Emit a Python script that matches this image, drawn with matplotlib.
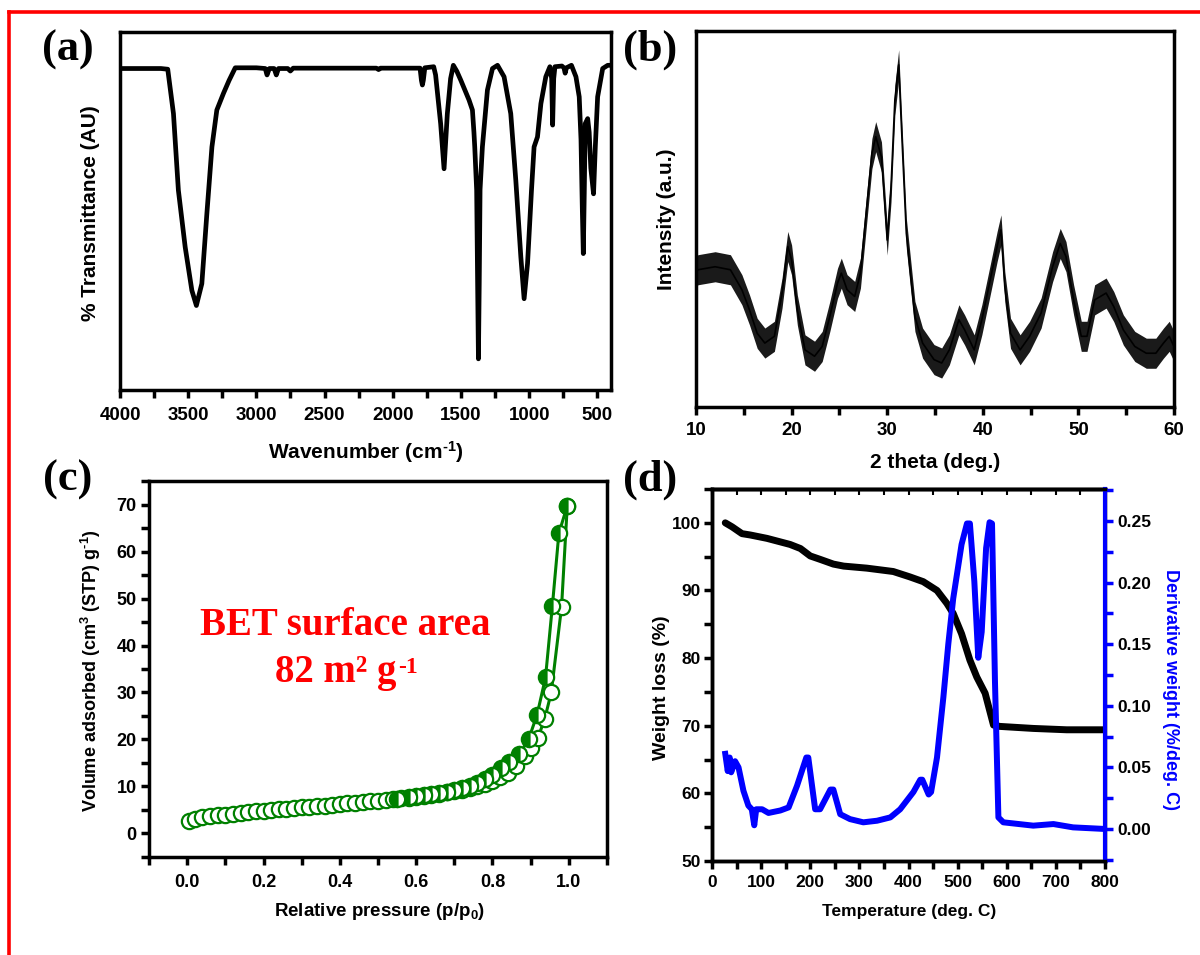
import matplotlib
matplotlib.use('Agg')
import numpy as np
import matplotlib.pyplot as plt
from matplotlib.lines import Line2D
from matplotlib.ticker import MultipleLocator, FormatStrFormatter

plt.rcParams['font.family'] = 'Liberation Sans'
plt.rcParams['font.weight'] = 'bold'
plt.rcParams['mathtext.fontset'] = 'custom'
plt.rcParams['mathtext.rm'] = 'Liberation Sans:bold'
plt.rcParams['mathtext.it'] = 'Liberation Sans:bold'
plt.rcParams['mathtext.bf'] = 'Liberation Sans:bold'
plt.rcParams['mathtext.default'] = 'rm'

# (a) FTIR spectrum
ir_wn = [4000, 3700, 3650, 3608, 3572, 3522, 3473, 3440, 3400, 3363, 3326, 3290,
         3241, 3200, 3155, 3000, 2935, 2922, 2905, 2870, 2854, 2838, 2770, 2751,
         2730, 2120, 2104, 2090, 1800, 1790, 1783, 1776, 1765, 1700, 1686, 1649,
         1624, 1600, 1576, 1556, 1530, 1502, 1441, 1416, 1405, 1399, 1385, 1378,
         1372, 1366, 1360, 1343, 1306, 1269, 1232, 1184, 1135, 1098, 1061, 1037,
         1012, 983, 964, 939, 914, 878, 848, 835, 828, 820, 811, 760, 745, 736,
         727, 690, 657, 633, 620, 610, 603, 596, 589, 571, 560, 548, 528, 515,
         498, 461, 424, 400]
ir_tr = [89.8, 89.8, 89.6, 77.2, 55.8, 39.9, 27.8, 23.6, 29.7, 49.3, 67.9, 78.2,
         82.9, 86.5, 90.0, 90.0, 89.8, 88.0, 89.8, 89.8, 88.0, 89.8, 89.8, 89.1,
         89.9, 89.9, 89.5, 89.9, 89.9, 86.5, 85.2, 86.5, 90.0, 90.3, 88.0, 74.4,
         61.8, 77.2, 87.0, 90.7, 89.0, 86.6, 81.0, 78.2, 72.0, 67.9, 55.8, 30.0,
         8.7, 30.0, 56.0, 67.9, 83.8, 89.8, 90.7, 87.5, 77.2, 58.6, 37.1, 25.5,
         35.3, 55.8, 67.9, 70.7, 80.0, 87.5, 90.3, 87.0, 74.0, 87.0, 90.3, 90.5,
         90.0, 88.5, 90.0, 90.7, 87.5, 81.9, 70.0, 50.0, 38.1, 55.0, 74.4, 75.8,
         72.0, 62.0, 54.8, 68.0, 81.9, 89.8, 90.7, 90.7]

# (b) XRD pattern
xrd_2theta = [10.0, 10.2, 12.0, 13.6, 14.8, 15.6, 16.4, 17.2, 18.2, 19.0, 19.6, 20.0,
              20.6, 21.4, 22.4, 23.2, 24.0, 24.8, 25.2, 25.8, 26.6, 27.2, 27.8, 28.4,
              28.8, 29.4, 30.0, 30.4, 30.8, 31.2, 31.6, 32.0, 32.9, 33.7, 34.9, 35.7,
              36.5, 37.5, 38.1, 39.1, 39.9, 40.7, 41.5, 41.9, 42.3, 42.9, 43.9, 44.9,
              46.1, 47.3, 48.1, 48.7, 49.5, 50.3, 50.9, 51.7, 52.9, 53.7, 54.7, 55.9,
              57.1, 58.1, 58.9, 59.5, 60.0]
xrd_int = [36.0, 36.5, 37.3, 36.5, 31.2, 25.8, 19.6, 17.0, 18.8, 30.3, 42.7, 39.1,
           25.8, 15.2, 13.5, 16.1, 24.1, 32.9, 35.6, 31.2, 29.4, 35.6, 51.5, 67.4,
           71.9, 66.5, 44.4, 58.6, 81.6, 91.0, 68.3, 46.2, 24.1, 17.0, 12.6, 11.7,
           15.2, 23.2, 20.5, 15.2, 23.2, 32.9, 42.7, 47.1, 32.0, 19.6, 15.2, 18.8,
           25.0, 37.3, 43.5, 40.0, 28.5, 18.8, 18.8, 28.5, 30.3, 26.7, 20.5, 16.1,
           14.3, 14.3, 17.0, 18.8, 16.1]

# (c) N2 isotherm
ads_p = [0.005, 0.02, 0.04, 0.06, 0.08, 0.10, 0.12, 0.14, 0.16, 0.18, 0.20, 0.22,
         0.24, 0.26, 0.28, 0.30, 0.32, 0.34, 0.36, 0.38, 0.40, 0.42, 0.44, 0.46,
         0.48, 0.50, 0.52, 0.54, 0.56, 0.58, 0.60, 0.62, 0.64, 0.66, 0.68, 0.70,
         0.72, 0.74, 0.76, 0.78, 0.80, 0.82, 0.84, 0.862, 0.884, 0.901, 0.919,
         0.937, 0.954, 0.981, 0.996]
ads_v = [2.6, 3.1, 3.4, 3.6, 3.8, 4.0, 4.2, 4.35, 4.5, 4.65, 4.8, 4.95,
         5.1, 5.25, 5.4, 5.5, 5.65, 5.8, 5.9, 6.05, 6.2, 6.35, 6.5, 6.65,
         6.8, 6.95, 7.1, 7.3, 7.45, 7.6, 7.8, 8.0, 8.2, 8.45, 8.7, 9.0,
         9.3, 9.7, 10.1, 10.6, 11.2, 11.9, 12.9, 14.3, 16.4, 18.2, 20.3,
         24.4, 30.0, 48.2, 69.8]
des_p = [0.996, 0.974, 0.957, 0.939, 0.917, 0.895, 0.870, 0.844, 0.822, 0.80,
         0.78, 0.76, 0.74, 0.72, 0.70, 0.68, 0.66, 0.64, 0.62, 0.60, 0.58, 0.55]
des_v = [69.8, 63.9, 48.5, 33.2, 25.3, 20.1, 16.8, 15.1, 13.9, 12.5,
         11.5, 10.7, 10.1, 9.6, 9.2, 8.9, 8.6, 8.3, 8.1, 7.9, 7.7, 7.4]

# (d) TGA / DTG
tga_t = [27, 41, 61, 78, 112, 159, 180, 200, 220, 247, 268, 315, 369, 403, 430,
         458, 478, 491, 508, 525, 539, 556, 573, 586, 654, 722, 797]
tga_w = [100.0, 99.4, 98.4, 98.2, 97.7, 96.8, 96.2, 95.1, 94.6, 93.9, 93.6, 93.3,
         92.8, 92.0, 91.3, 90.0, 88.1, 86.6, 83.6, 79.7, 77.2, 74.8, 70.1, 69.9,
         69.6, 69.4, 69.4]
dtg_t = [27, 32, 36, 39, 47, 54, 64, 74, 81, 86, 90, 102, 115, 139, 156, 173,
         192, 196, 210, 220, 241, 247, 261, 281, 308, 336, 363, 383, 410, 424,
         428, 441, 446, 458, 471, 481, 491, 508, 519, 525, 534, 542, 549, 558,
         565, 570, 576, 583, 593, 654, 695, 735, 800]
dtg_d = [0.061, 0.047, 0.058, 0.046, 0.055, 0.050, 0.031, 0.019, 0.016, 0.003,
         0.016, 0.016, 0.013, 0.015, 0.0175, 0.035, 0.058, 0.058, 0.016, 0.016,
         0.032, 0.032, 0.012, 0.008, 0.0054, 0.0067, 0.0094, 0.016, 0.030, 0.040,
         0.040, 0.028, 0.030, 0.058, 0.107, 0.150, 0.187, 0.231, 0.248, 0.248,
         0.201, 0.139, 0.160, 0.228, 0.249, 0.248, 0.120, 0.0094, 0.0054, 0.0027,
         0.004, 0.0013, 0.0]

W, H = 1200, 955
fig = plt.figure(figsize=(12, 9.55), dpi=100)


def box(l, t, r, b):
    return [l / W, 1 - b / H, (r - l) / W, (b - t) / H]


def ftext(x, y, s, **kw):
    return fig.text(x / W, 1 - y / H, s, **kw)


def frame(ax, lw=2.5):
    for sp in ax.spines.values():
        sp.set_linewidth(lw)


# ---- (a)
ax_a = fig.add_axes(box(120, 32, 611, 390))
ax_a.plot(ir_wn, ir_tr, color='black', lw=3.4, solid_joinstyle='round')
ax_a.set_xlim(4000, 400)
ax_a.set_ylim(0, 100)
ax_a.set_yticks([])
ax_a.xaxis.set_major_locator(MultipleLocator(500))
ax_a.xaxis.set_minor_locator(MultipleLocator(250))
ax_a.tick_params(axis='x', which='both', direction='out', length=6, width=2.5,
                 labelsize=13.5, pad=6)
frame(ax_a)
ftext(366, 452, r'Wavenumber (cm$^{\text{-}1}$)', ha='center', va='center', fontsize=15)
ftext(91, 213, '% Transmittance (AU)', ha='center', va='center', fontsize=15,
      rotation=90)

# ---- (b)
ax_b = fig.add_axes(box(696, 31, 1174, 407))
xi = np.array(xrd_int)
ax_b.fill_between(xrd_2theta, xi - 4, xi + 4, color='0.1', lw=0)
ax_b.plot(xrd_2theta, xrd_int, color='black', lw=1.2)
ax_b.set_xlim(10, 60)
ax_b.set_ylim(0, 100)
ax_b.set_yticks([])
ax_b.xaxis.set_major_locator(MultipleLocator(10))
ax_b.xaxis.set_minor_locator(MultipleLocator(5))
ax_b.tick_params(axis='x', which='both', direction='out', length=6, width=2.5,
                 labelsize=13.5, pad=5)
frame(ax_b)
ftext(935, 462, '2 theta (deg.)', ha='center', va='center', fontsize=15)
ftext(667, 219, 'Intensity (a.u.)', ha='center', va='center', fontsize=15,
      rotation=90)

# ---- (c)
ax_c = fig.add_axes(box(149, 481, 607, 857))
green = '#008000'
ax_c.plot(ads_p, ads_v, color=green, lw=2.2, marker='o', ms=11, mew=1.6,
          mfc='white', mec=green)
ax_c.plot(des_p, des_v, color=green, lw=2.2, marker='o', ms=11, mew=1.6,
          mfc=green, mfcalt='white', fillstyle='left', mec=green)
ax_c.set_xlim(-0.1001, 1.1001)
ax_c.set_ylim(-5.05, 75.05)
ax_c.xaxis.set_major_locator(MultipleLocator(0.2))
ax_c.xaxis.set_minor_locator(MultipleLocator(0.1))
ax_c.xaxis.set_major_formatter(FormatStrFormatter('%.1f'))
ax_c.yaxis.set_major_locator(MultipleLocator(10))
ax_c.yaxis.set_minor_locator(MultipleLocator(5))
ax_c.tick_params(axis='both', which='both', direction='out', length=6, width=2.5,
                 labelsize=13)
ax_c.tick_params(axis='x', pad=6)
ax_c.tick_params(axis='y', pad=3)
frame(ax_c)
ftext(380, 911, 'Relative pressure (p/p$_0$)', ha='center', va='center', fontsize=13.5)
ftext(91, 671, r'Volume adsorbed (cm$^3$ (STP) g$^{\text{-}1}$)', ha='center',
      va='center', fontsize=13, rotation=90)
ftext(345, 635, 'BET surface area', ha='center', va='baseline', color='red',
      fontsize=28, family='Liberation Serif', weight='bold')
bet2 = ftext(336, 682, '82 m\u00b2 g', ha='center', va='baseline',
             color='red', fontsize=28, family='Liberation Serif', weight='bold')
ax_c.annotate('-1', xy=(1, 1), xycoords=bet2, xytext=(1, -2),
              textcoords='offset points', ha='left', va='top', color='red',
              fontsize=17, family='Liberation Serif', weight='bold')

# ---- (d)
ax_d = fig.add_axes(box(712, 489, 1105, 861))
ax_d.plot(tga_t, tga_w, color='black', lw=5, solid_joinstyle='round',
          solid_capstyle='round')
ax_d.set_xlim(0, 800)
ax_d.set_ylim(50, 105)
ax_d.xaxis.set_major_locator(MultipleLocator(100))
ax_d.xaxis.set_minor_locator(MultipleLocator(50))
ax_d.yaxis.set_major_locator(MultipleLocator(10))
ax_d.yaxis.set_minor_locator(MultipleLocator(5))
ax_d.tick_params(axis='both', which='both', direction='out', length=6, width=2.5,
                 labelsize=12.5)
ax_d.tick_params(axis='x', pad=4)
ax_d.tick_params(axis='y', pad=2)
frame(ax_d)
top = ax_d.secondary_xaxis('top')
top.xaxis.set_major_locator(MultipleLocator(50))
top.tick_params(direction='in', length=4, width=1.5, labeltop=False)
top.spines['top'].set_linewidth(2.5)

ax_d2 = ax_d.twinx()
ax_d2.plot(dtg_t, dtg_d, color='blue', lw=4.3, solid_joinstyle='round')
ax_d2.set_ylim(-0.026, 0.276)
ax_d2.yaxis.set_major_locator(MultipleLocator(0.05))
ax_d2.yaxis.set_minor_locator(MultipleLocator(0.025))
ax_d2.yaxis.set_major_formatter(FormatStrFormatter('%.2f'))
ax_d2.tick_params(axis='y', which='both', direction='out', length=6, width=2.5,
                  color='blue', labelsize=12.5, pad=3)
frame(ax_d2)
ax_d2.spines['right'].set_color('blue')
ax_d2.spines['right'].set_linewidth(3)
ftext(909, 911, 'Temperature (deg. C)', ha='center', va='center', fontsize=12.5)
ftext(661, 688, 'Weight loss (%)', ha='center', va='center', fontsize=14, rotation=90)
ftext(1170, 689, 'Derivative weight (%/deg. C)', ha='center', va='center',
      fontsize=13, rotation=270, color='blue')

# panel letters
for lab, x, y in [('(a)', 68, 50), ('(b)', 650, 50), ('(c)', 68, 480), ('(d)', 650, 480)]:
    ftext(x, y, lab, ha='center', va='center', fontsize=32,
          family='Liberation Serif', weight='bold')

# red frame
fig.add_artist(Line2D([9 / W, 9 / W], [0, 1 - 12 / H], color='red', lw=2.6,
                      transform=fig.transFigure))
fig.add_artist(Line2D([9 / W, 1], [1 - 12 / H, 1 - 12 / H], color='red', lw=2.6,
                      transform=fig.transFigure))

fig.savefig('out.png', dpi=100)
